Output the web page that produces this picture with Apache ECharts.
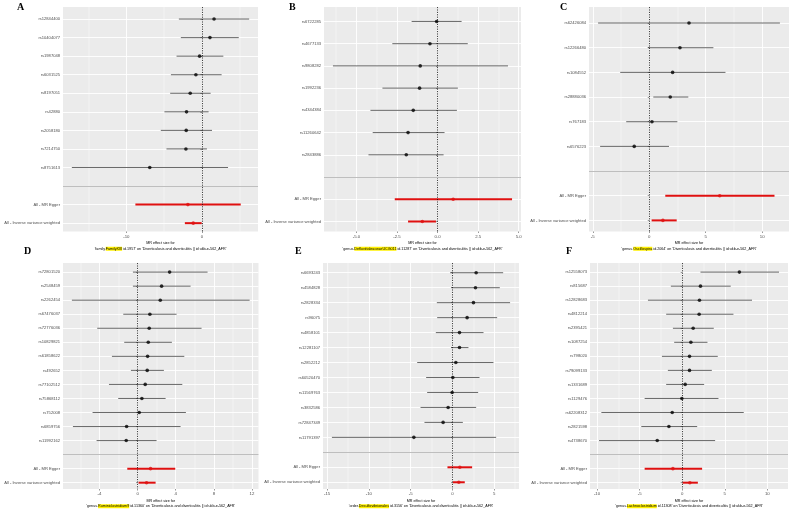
<!DOCTYPE html>
<html><head><meta charset="utf-8">
<script src="https://cdn.jsdelivr.net/npm/echarts@6.0.0/dist/echarts.min.js"></script>
<style>html,body{margin:0;padding:0;background:#fff}#c{width:790px;height:513px}</style>
</head><body><div id="c"></div>
<script>
// ---------------- data ----------------
const outcome = "Diverticulosis and diverticulitis || id:ukb-e-562_AFR";
const summaryLabels = ['', 'All - MR Egger', 'All - Inverse variance weighted'];

// Panel A
const snpA = ['rs12844400','rs10404077','rs1987048','rs6031525','rs8197051','rs42880','rs2058180','rs7214750','rs8751613'];
const bA  = [1.6, 1.06, -0.31, -0.8, -1.55, -2.04, -2.08, -2.12, -6.9];
const loA = [-3.05, -2.79, -3.36, -4.1, -4.2, -4.96, -5.44, -4.69, -17.2];
const hiA = [6.24, 4.87, 2.83, 2.6, 1.15, 0.88, 1.33, 0.66, 3.45];
const sumBA = [-1.86, -1.15], sumLoA = [-8.8, -2.26], sumHiA = [5.13, -0.04];
const ticksA = [-10, 0];

// Panel B
const snpB = ['rs6722285','rs4677133','rs9808282','rs1992236','rs4344384','rs11260642','rs2843886'];
const bB  = [-0.06, -0.47, -1.07, -1.11, -1.5, -1.82, -1.93];
const loB = [-1.6, -2.79, -6.45, -3.4, -4.14, -4.0, -4.26];
const hiB = [1.48, 1.86, 4.34, 1.25, 1.19, 0.43, 0.37];
const sumBB = [0.96, -0.94], sumLoB = [-2.64, -1.82], sumHiB = [4.59, -0.1];
const ticksB = [-5, -2.5, 0, 2.5, 5];

// Panel C
const snpC = ['rs62426084','rs12266480','rs1084552','rs28880036','rs767183','rs6576223'];
const bC  = [3.52, 2.72, 2.07, 1.86, 0.24, -1.33];
const loC = [-4.53, -0.12, -2.57, 0.36, -2.04, -4.35];
const hiC = [11.57, 5.68, 6.75, 3.46, 2.49, 1.75];
const sumBC = [6.24, 1.21], sumLoC = [1.42, 0.21], sumHiC = [11.09, 2.43];
const ticksC = [-5, 0, 5, 10];

// Panel D
const snpD = ['rs72801520','rs2548459','rs2262454','rs67476037','rs72776036','rs10829821','rs61858622','rs492652','rs77102512','rs75868112','rs752008','rs6859756','rs11992162'];
const bD  = [3.36, 2.52, 2.38, 1.29, 1.22, 1.12, 1.05, 1.01, 0.8, 0.45, 0.17, -1.15, -1.19];
const loD = [-0.49, -0.49, -6.89, -1.5, -4.23, -1.4, -2.69, -0.7, -3.0, -2.03, -4.72, -6.78, -4.3];
const hiD = [7.34, 5.56, 11.75, 4.09, 6.71, 3.6, 4.9, 2.76, 4.69, 2.94, 5.07, 4.51, 1.99];
const sumBD = [1.36, 0.94], sumLoD = [-1.08, 0.1], sumHiD = [3.95, 1.89];
const ticksD = [-4, 0, 4, 8, 12];

// Panel E
const snpE = ['rs6693243','rs4584828','rs2828334','rs96075','rs4858101','rs12281107','rs2852212','rs60520470','rs11569763','rs3832586','rs72847349','rs11791397'];
const bE  = [2.83, 2.75, 2.51, 1.75, 0.84, 0.84, 0.4, 0.04, -0.04, -0.52, -1.12, -4.62];
const loE = [-0.28, -0.12, -1.87, -1.83, -1.99, -0.16, -4.22, -3.15, -3.03, -3.82, -3.35, -14.42];
const hiE = [6.06, 5.66, 6.89, 5.34, 3.71, 1.91, 4.9, 3.23, 3.07, 2.83, 1.24, 5.22];
const sumBE = [0.88, 0.76], sumLoE = [-0.6, 0.04], sumHiE = [2.35, 1.47];
const ticksE = [-15, -10, -5, 0, 5];

// Panel F
const snpF = ['rs12558073','rs815687','rs12828683','rs4812214','rs2395421','rs1087254','rs798020','rs79099133','rs1331689','rs1129476','rs62208312','rs2821598','rs4738670'];
const bF  = [6.72, 2.15, 2.03, 1.99, 1.29, 1.02, 0.86, 0.86, 0.35, -0.04, -1.17, -1.56, -2.93];
const loF = [2.15, -1.33, -4.02, -1.88, -1.09, -0.94, -2.38, -1.68, -1.88, -4.41, -9.49, -4.8, -9.77];
const hiF = [11.37, 5.7, 8.2, 6.02, 3.71, 2.97, 4.18, 3.48, 2.58, 4.26, 7.23, 1.76, 3.87];
const sumBF = [-1.09, 0.9], sumLoF = [-4.41, 0.04], sumHiF = [2.34, 1.84];
const ticksF = [-10, -5, 0, 5, 10];

const exposurePrefix = ['family.', 'genus.', 'genus.', 'genus.', 'order.', 'genus.'];
const exposureHighlight = ['FamilyXIII', 'DefluviitaleaceaeUCG011', 'Oscillospira', 'Ruminiclostridium9', 'Desulfovibrionales', 'Lachnoclostridium'];
const exposureSuffix = [' id.1957', ' id.11287', ' id.2064', ' id.11360', ' id.3156', ' id.11308'];
const panelLetters = ['A', 'B', 'C', 'D', 'E', 'F'];
const tickDecimals = [0, 1, 0, 0, 0, 0];

// ---------------- layout ----------------
const layout = [
  {left: 63,  right: 532,   top: 7,   bottom: 281.5, lx: 17,  ly: 2},
  {left: 324, right: 269,   top: 7,   bottom: 281.5, lx: 289, ly: 2},
  {left: 589, right: 1,     top: 7,   bottom: 281.5, lx: 560, ly: 2},
  {left: 63,  right: 531.5, top: 263, bottom: 24,    lx: 24,  ly: 246},
  {left: 323, right: 271,   top: 263, bottom: 24,    lx: 295, ly: 246},
  {left: 590, right: 2,     top: 263, bottom: 24,    lx: 566, ly: 246}
];

const panels = [
  {snp: snpA, b: bA, lo: loA, hi: hiA, sb: sumBA, slo: sumLoA, shi: sumHiA, ticks: ticksA},
  {snp: snpB, b: bB, lo: loB, hi: hiB, sb: sumBB, slo: sumLoB, shi: sumHiB, ticks: ticksB},
  {snp: snpC, b: bC, lo: loC, hi: hiC, sb: sumBC, slo: sumLoC, shi: sumHiC, ticks: ticksC},
  {snp: snpD, b: bD, lo: loD, hi: hiD, sb: sumBD, slo: sumLoD, shi: sumHiD, ticks: ticksD},
  {snp: snpE, b: bE, lo: loE, hi: hiE, sb: sumBE, slo: sumLoE, shi: sumHiE, ticks: ticksE},
  {snp: snpF, b: bF, lo: loF, hi: hiF, sb: sumBF, slo: sumLoF, shi: sumHiF, ticks: ticksF}
];

const FONT = 'Liberation Sans, Arial, Helvetica, sans-serif';
const RED = '#e01010';
const option = {animation: false, backgroundColor: '#fff', title: [], grid: [], xAxis: [], yAxis: [], series: []};

panels.forEach((p, gi) => {
  const L = layout[gi];
  const labels = p.snp.concat(summaryLabels);
  const n = labels.length;
  const sepPos = p.snp.length + 1;
  const rows = [];
  p.snp.forEach((s, i) => rows.push([p.b[i], p.lo[i], p.hi[i], i + 1, 0]));
  p.sb.forEach((v, i) => rows.push([v, p.slo[i], p.shi[i], sepPos + 1 + i, 1]));
  const allLo = Math.min(...rows.map(r => r[1]));
  const allHi = Math.max(...rows.map(r => r[2]));
  const span = allHi - allLo;
  const xmin = allLo - 0.05 * span, xmax = allHi + 0.05 * span;
  const step = p.ticks[1] - p.ticks[0];
  const minor = [];
  for (let v = p.ticks[0] - step / 2; v <= xmax; v += step) {
    if (v >= xmin) minor.push(v);
  }
  const positions = labels.map((_, i) => i + 1);

  option.title.push({
    text: panelLetters[gi], left: L.lx, top: L.ly, padding: 0,
    textStyle: {fontFamily: 'Liberation Serif, DejaVu Serif, serif', fontWeight: 'bold', fontSize: 10, color: '#000'}
  });
  option.grid.push({
    left: L.left, right: L.right, top: L.top, bottom: L.bottom,
    show: true, backgroundColor: '#ebebeb', borderWidth: 0, containLabel: false, outerBoundsMode: 'none'
  });
  const dec = tickDecimals[gi];
  option.xAxis.push({
    gridIndex: gi, type: 'value', min: xmin, max: xmax, position: 'bottom',
    axisLine: {show: false},
    axisTick: {show: true, customValues: p.ticks, length: 1.5, lineStyle: {color: '#333', width: 0.5}},
    axisLabel: {customValues: p.ticks, fontSize: 4.3, color: '#4d4d4d', fontFamily: FONT, margin: 3,
      formatter: v => Number(v).toFixed(dec)},
    splitLine: {show: true, lineStyle: {color: '#ffffff', width: 0.9}},
    name: 'MR effect size for\n{n|\'' + exposurePrefix[gi] + '}{h|' + exposureHighlight[gi] + '}{n|' + exposureSuffix[gi] + '\' on \'' + outcome + '\'}',
    nameLocation: 'middle', nameGap: 9,
    nameTextStyle: {fontSize: 3.7, lineHeight: 5.5, color: '#000', fontFamily: FONT,
      rich: {n: {fontSize: 3.7, lineHeight: 5.5, color: '#000', fontFamily: FONT},
             h: {fontSize: 3.7, lineHeight: 5.5, color: '#000', fontFamily: FONT, backgroundColor: '#fff000'}}}
  });
  option.xAxis.push({
    gridIndex: gi, type: 'value', min: xmin, max: xmax, position: 'top',
    axisLine: {show: false},
    axisTick: {show: false, customValues: minor},
    axisLabel: {show: false, customValues: minor},
    splitLine: {show: true, lineStyle: {color: '#ffffff', width: 0.45}}
  });
  option.yAxis.push({
    gridIndex: gi, type: 'value', inverse: true, min: 0.35, max: n + 0.45,
    axisLine: {show: false},
    axisTick: {show: true, customValues: positions, length: 1.5, lineStyle: {color: '#333', width: 0.5}},
    axisLabel: {customValues: positions, fontSize: 4.1, color: '#4d4d4d', fontFamily: FONT, margin: 3,
      formatter: v => labels[Math.round(v) - 1]},
    splitLine: {show: true, lineStyle: {color: '#ffffff', width: 0.9}}
  });
  const xi = gi * 2;
  option.series.push({
    type: 'scatter', xAxisIndex: xi, yAxisIndex: gi, data: [], z: 1, silent: true,
    markLine: {
      silent: true, symbol: ['none', 'none'], label: {show: false}, animation: false,
      data: [
        {xAxis: 0, lineStyle: {type: [1.2, 1.2], color: '#111', width: 0.8}},
        {yAxis: sepPos, lineStyle: {type: 'solid', color: '#bebebe', width: 1}}
      ]
    }
  });
  option.series.push({
    type: 'custom', xAxisIndex: xi, yAxisIndex: gi, data: rows, z: 3, silent: true,
    encode: {x: [1, 2], y: 3},
    renderItem: (params, api) => {
      const y = api.value(3);
      const a = api.coord([api.value(1), y]);
      const c = api.coord([api.value(2), y]);
      const sum = api.value(4) === 1;
      return {type: 'line', shape: {x1: a[0], y1: a[1], x2: c[0], y2: c[1]},
        style: {stroke: sum ? RED : '#262626', lineWidth: sum ? 2 : 0.7}};
    }
  });
  option.series.push({
    type: 'scatter', xAxisIndex: xi, yAxisIndex: gi, z: 4, silent: true,
    symbolSize: 3.6,
    data: rows.map(r => ({value: [r[0], r[3]], itemStyle: {color: r[4] ? RED : '#000'}}))
  });
});

const chart = echarts.init(document.getElementById('c'), null, {renderer: 'canvas'});
chart.setOption(option);
</script>
</body></html>
